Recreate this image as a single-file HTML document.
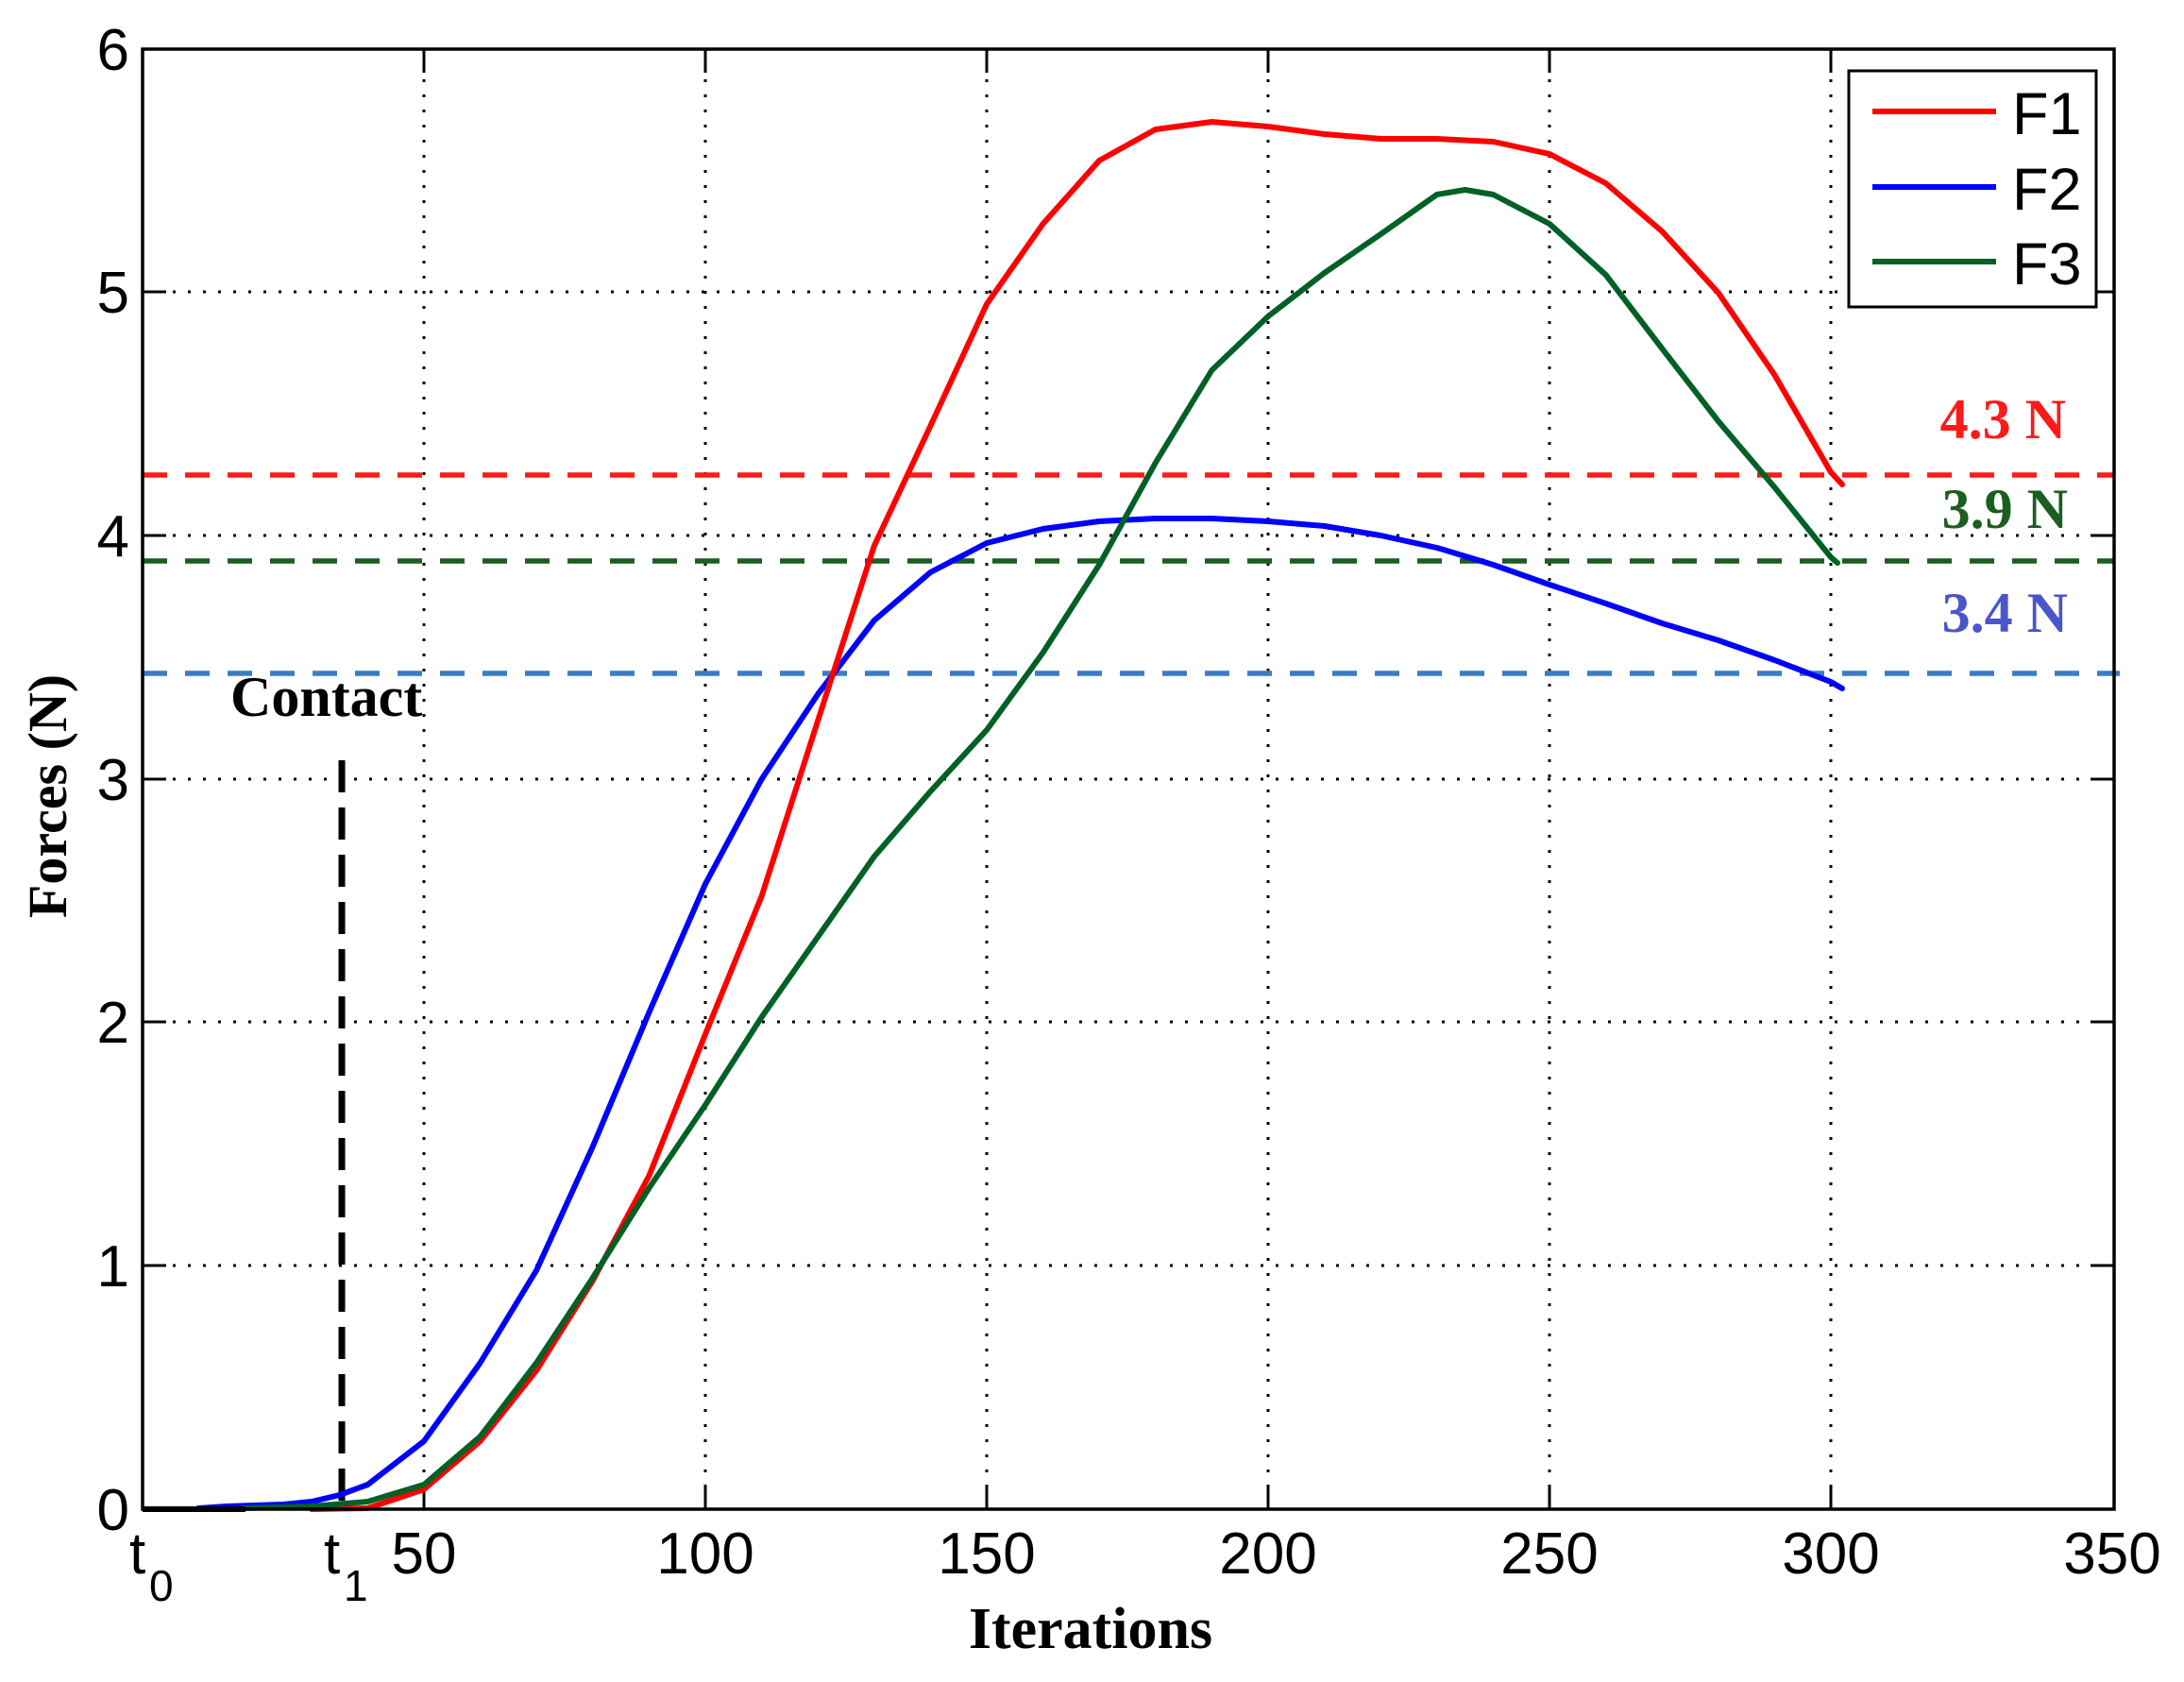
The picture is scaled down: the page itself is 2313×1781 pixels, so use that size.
<!DOCTYPE html>
<html><head><meta charset="utf-8"><style>
html,body{margin:0;padding:0;background:#fff;}
svg{display:block;}
</style></head><body>
<svg width="2313" height="1781" viewBox="0 0 2313 1781" xmlns="http://www.w3.org/2000/svg">
<rect width="2313" height="1781" fill="#fff"/>
<g stroke="#000" stroke-width="3" stroke-dasharray="3 13" fill="none">
<line x1="449" y1="52" x2="449" y2="1598"/>
<line x1="747" y1="52" x2="747" y2="1598"/>
<line x1="1045" y1="52" x2="1045" y2="1598"/>
<line x1="1343" y1="52" x2="1343" y2="1598"/>
<line x1="1641" y1="52" x2="1641" y2="1598"/>
<line x1="1939" y1="52" x2="1939" y2="1598"/>
<line x1="151" y1="309" x2="2239" y2="309"/>
<line x1="151" y1="567" x2="2239" y2="567"/>
<line x1="151" y1="825" x2="2239" y2="825"/>
<line x1="151" y1="1082" x2="2239" y2="1082"/>
<line x1="151" y1="1340" x2="2239" y2="1340"/>
</g>
<g stroke="#000" stroke-width="3">
<line x1="449" y1="1598" x2="449" y2="1573"/><line x1="747" y1="1598" x2="747" y2="1573"/><line x1="1045" y1="1598" x2="1045" y2="1573"/><line x1="1343" y1="1598" x2="1343" y2="1573"/><line x1="1641" y1="1598" x2="1641" y2="1573"/><line x1="1939" y1="1598" x2="1939" y2="1573"/>
<line x1="449" y1="52" x2="449" y2="77"/><line x1="747" y1="52" x2="747" y2="77"/><line x1="1045" y1="52" x2="1045" y2="77"/><line x1="1343" y1="52" x2="1343" y2="77"/><line x1="1641" y1="52" x2="1641" y2="77"/><line x1="1939" y1="52" x2="1939" y2="77"/>
<line x1="151" y1="309" x2="176" y2="309"/><line x1="151" y1="567" x2="176" y2="567"/><line x1="151" y1="825" x2="176" y2="825"/><line x1="151" y1="1082" x2="176" y2="1082"/><line x1="151" y1="1340" x2="176" y2="1340"/>
<line x1="2239" y1="309" x2="2214" y2="309"/><line x1="2239" y1="567" x2="2214" y2="567"/><line x1="2239" y1="825" x2="2214" y2="825"/><line x1="2239" y1="1082" x2="2214" y2="1082"/><line x1="2239" y1="1340" x2="2214" y2="1340"/>
</g>
<g stroke-width="5.5" stroke-dasharray="26 19" fill="none">
<line x1="151" y1="503" x2="2239" y2="503" stroke="#ff1a1a"/>
<line x1="151" y1="594" x2="2239" y2="594" stroke="#1a5e20"/>
<line x1="151" y1="713" x2="2245" y2="713" stroke="#3a7cc4"/>
</g>
<line x1="362" y1="805" x2="362" y2="1598" stroke="#000" stroke-width="7" stroke-dasharray="34 16"/>
<g fill="none" stroke-width="6" stroke-linejoin="round" stroke-linecap="round">
<polyline stroke="#0000ff" points="210,1597 240,1595 300,1593 330,1590 359.6,1583 389.4,1572 449,1526 508.6,1443 568.2,1345 627.8,1214 687.4,1072 747,936 806.6,825 866.2,735 925.8,657 985.4,606 1045,575 1104.6,560 1164.2,552 1223.8,549 1283.4,549 1343,552 1402.6,557 1462.2,567 1521.8,580 1581.4,598 1641,619 1700.6,639 1760.2,660 1819.8,678 1879.4,699 1939,722 1951,729"/>
<polyline stroke="#ff0000" points="330,1598 389.4,1597 449,1577 508.6,1526 568.2,1451 627.8,1356 687.4,1245 747,1095 806.6,949 866.2,763 925.8,578 985.4,451 1045,322 1104.6,237 1164.2,170 1223.8,137 1283.4,129 1343,134 1402.6,142 1462.2,147 1521.8,147 1581.4,150 1641,163 1700.6,194 1760.2,245 1819.8,310 1879.4,397 1939,500 1951,513"/>
<polyline stroke="#006025" points="258,1597 329.8,1595 389.4,1590 449,1572 508.6,1521 568.2,1443 627.8,1353 687.4,1258 747,1170 806.6,1077 866.2,992 925.8,907 985.4,838 1045,773 1104.6,691 1164.2,598 1223.8,490 1283.4,392 1343,335 1402.6,289 1462.2,248 1521.8,206 1551.6,201 1581.4,206 1641,237 1700.6,291 1760.2,369 1819.8,446 1879.4,516 1939,590 1946,596"/>
</g>
<line x1="151" y1="1598" x2="260" y2="1598" stroke="#000" stroke-width="6"/>
<rect x="151" y="52" width="2088" height="1546" fill="none" stroke="#000" stroke-width="3.5"/>
<rect x="1958" y="75" width="262" height="250" fill="#fff" stroke="#000" stroke-width="3"/>
<line x1="1983" y1="118" x2="2114" y2="118" stroke="#ff0000" stroke-width="6"/>
<line x1="1983" y1="198" x2="2114" y2="198" stroke="#0000ff" stroke-width="6"/>
<line x1="1983" y1="277" x2="2114" y2="277" stroke="#006025" stroke-width="6"/>
<g font-family="Liberation Sans, sans-serif" font-size="63" fill="#000">
<text x="2131" y="142">F1</text>
<text x="2131" y="222">F2</text>
<text x="2131" y="301">F3</text>
</g>
<g font-family="Liberation Sans, sans-serif" font-size="62" fill="#000" text-anchor="end">
<text x="137" y="74">6</text>
<text x="137" y="331">5</text>
<text x="137" y="589">4</text>
<text x="137" y="847">3</text>
<text x="137" y="1104">2</text>
<text x="137" y="1362">1</text>
<text x="137" y="1620">0</text>
</g>
<g font-family="Liberation Sans, sans-serif" font-size="62" fill="#000" text-anchor="middle">
<text x="449" y="1666">50</text>
<text x="747" y="1666">100</text>
<text x="1045" y="1666">150</text>
<text x="1343" y="1666">200</text>
<text x="1641" y="1666">250</text>
<text x="1939" y="1666">300</text>
<text x="2237" y="1666">350</text>
</g>
<g font-family="Liberation Sans, sans-serif" font-size="62" fill="#000">
<text x="137" y="1666">t</text><text x="158" y="1695" font-size="46">0</text>
<text x="343" y="1666">t</text><text x="364" y="1695" font-size="46">1</text>
</g>
<g font-family="Liberation Serif, serif" font-weight="bold">
<text x="244" y="758" font-size="60" fill="#000">Contact</text>
<text x="1155" y="1745" font-size="62" fill="#000" text-anchor="middle">Iterations</text>
<text transform="translate(70,843) rotate(-90)" font-size="58" fill="#000" text-anchor="middle">Forces (N)</text>
<text x="2188" y="464" font-size="60" fill="#ff1a1a" text-anchor="end">4.3 N</text>
<text x="2190" y="559" font-size="60" fill="#1a5e20" text-anchor="end">3.9 N</text>
<text x="2190" y="669" font-size="60" fill="#4a55cc" text-anchor="end">3.4 N</text>
</g>
</svg>
</body></html>
